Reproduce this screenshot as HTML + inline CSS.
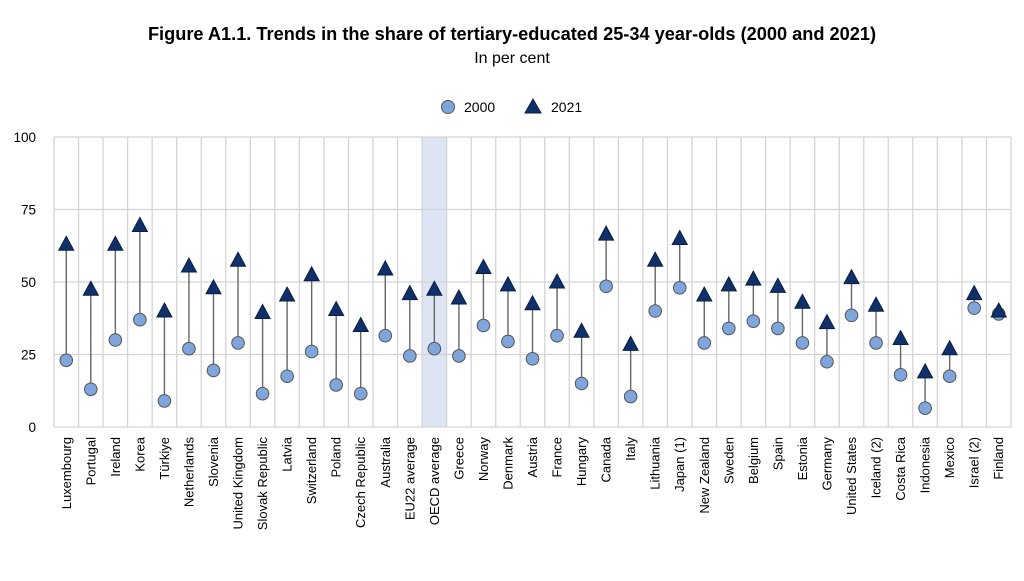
<!DOCTYPE html>
<html><head><meta charset="utf-8"><style>
body{margin:0;background:#fff;width:1024px;height:576px;overflow:hidden}
svg{font-family:"Liberation Sans",Arial,sans-serif}
</style></head><body>
<svg id="c" width="1024" height="576" xmlns="http://www.w3.org/2000/svg">
<text x="512" y="40" text-anchor="middle" font-weight="bold" font-size="18.2">Figure A1.1. Trends in the share of tertiary-educated 25-34 year-olds (2000 and 2021)</text>
<text x="512" y="63" text-anchor="middle" font-size="16">In per cent</text>
<circle cx="448" cy="107" r="6.5" fill="#7ea6dc" stroke="#555" stroke-width="1"/>
<text x="464" y="112" font-size="14">2000</text>
<polygon points="533,99 541,113 525,113" fill="#10306a" stroke="#0a1e45" stroke-width="1"/>
<text x="551" y="112" font-size="14">2021</text>
</svg>
<script>
const d=[["Luxembourg",23,63],["Portugal",13,47.5],["Ireland",30,63],["Korea",37,69.5],["Türkiye",9,40],["Netherlands",27,55.5],["Slovenia",19.5,48],["United Kingdom",29,57.5],["Slovak Republic",11.5,39.5],["Latvia",17.5,45.5],["Switzerland",26,52.5],["Poland",14.5,40.5],["Czech Republic",11.5,35],["Australia",31.5,54.5],["EU22 average",24.5,46],["OECD average",27,47.5],["Greece",24.5,44.5],["Norway",35,55],["Denmark",29.5,49],["Austria",23.5,42.5],["France",31.5,50],["Hungary",15,33],["Canada",48.5,66.5],["Italy",10.5,28.5],["Lithuania",40,57.5],["Japan (1)",48,65],["New Zealand",29,45.5],["Sweden",34,49],["Belgium",36.5,51],["Spain",34,48.5],["Estonia",29,43],["Germany",22.5,36],["United States",38.5,51.5],["Iceland (2)",29,42],["Costa Rica",18,30.5],["Indonesia",6.5,19],["Mexico",17.5,27],["Israel (2)",41,46],["Finland",39,40]];
const s=document.getElementById('c'),NS="http://www.w3.org/2000/svg";
function el(t,a,txt){const e=document.createElementNS(NS,t);for(const k in a)e.setAttribute(k,a[k]);if(txt)e.textContent=txt;s.appendChild(e);return e;}
const L=54,R=1011,T=137,B=427,n=d.length,w=(R-L)/n;
const Y=v=>B-(B-T)*v/100;
el('rect',{x:L+15*w,y:T,width:w,height:B-T,fill:'#dde5f5'});
[0,25,50,75,100].forEach(v=>{el('line',{x1:L,x2:R,y1:Y(v),y2:Y(v),stroke:'#d4d4d4','stroke-width':1.3});el('text',{x:36,y:Y(v)+5,'text-anchor':'end','font-size':13.5},String(v));});
for(let i=0;i<=n;i++)el('line',{x1:L+i*w,x2:L+i*w,y1:T,y2:B,stroke:'#d4d4d4','stroke-width':1.3});
d.forEach((r,i)=>{const x=L+w*(i+.5),y0=Y(r[1]),y1=Y(r[2]);
el('line',{x1:x,x2:x,y1:y0,y2:y1,stroke:'#666','stroke-width':1.4});
el('circle',{cx:x,cy:y0,r:6.3,fill:'#7ea6dc',stroke:'#555','stroke-width':1});
el('polygon',{points:`${x},${y1-8} ${x+7.5},${y1+6} ${x-7.5},${y1+6}`,fill:'#10306a',stroke:'#0a1e45','stroke-width':1});
el('text',{x:0,y:0,'text-anchor':'end','font-size':13,transform:`translate(${x+4.5},${B+10}) rotate(-90)`},r[0]);});
</script>
</body></html>
